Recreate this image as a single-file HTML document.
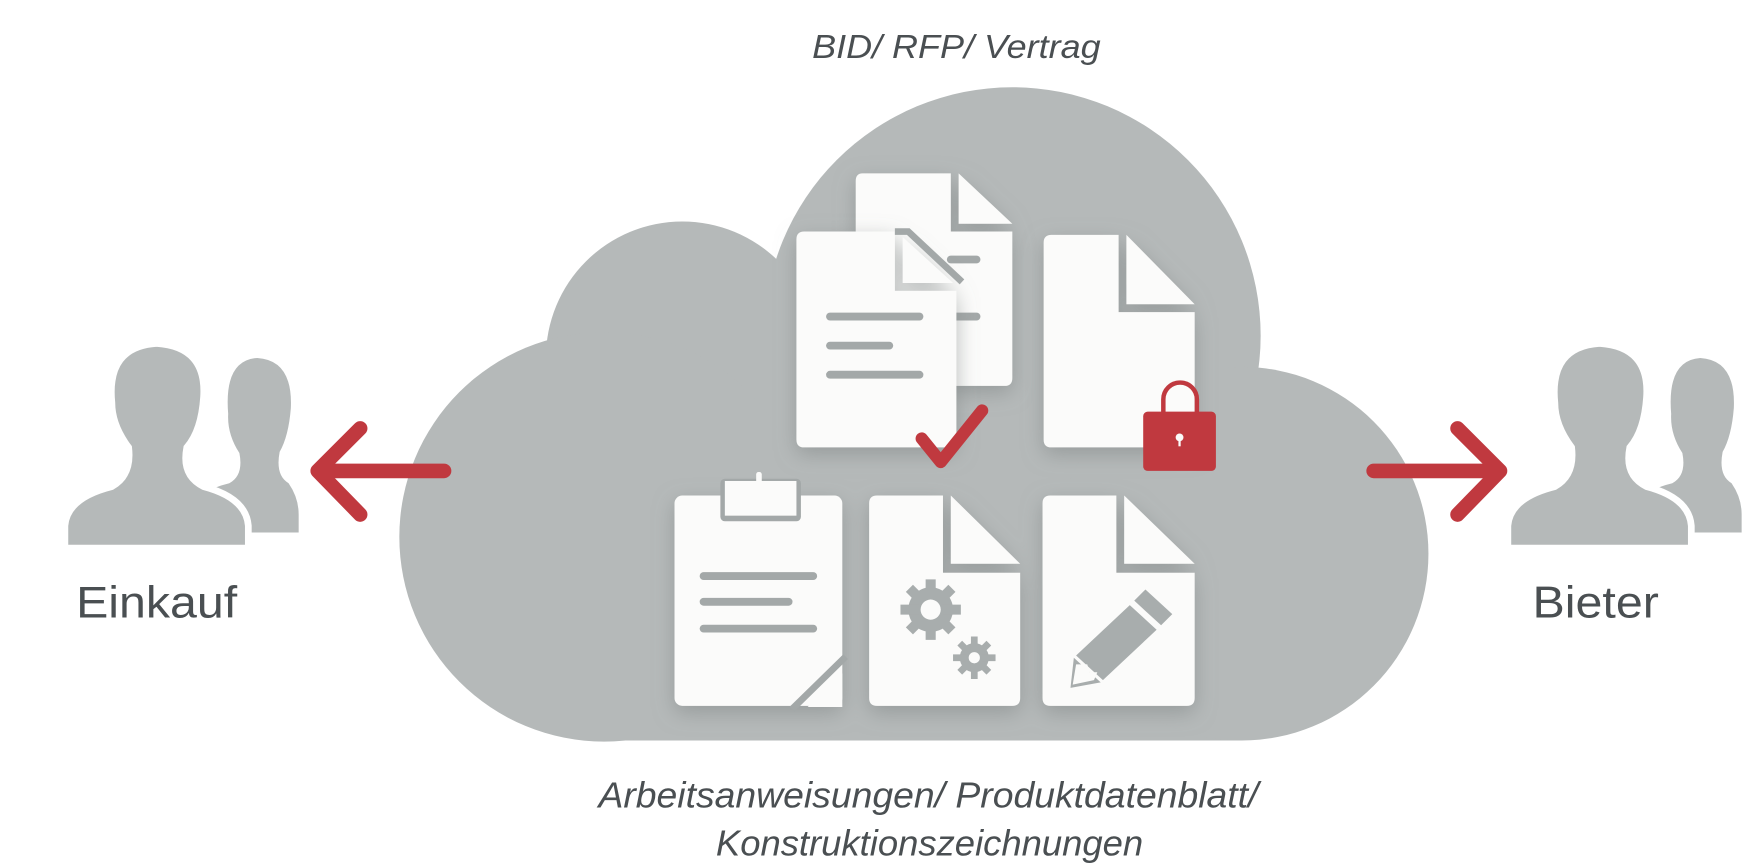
<!DOCTYPE html>
<html><head><meta charset="utf-8"><style>
html,body{margin:0;padding:0;background:#fff;width:1745px;height:866px;overflow:hidden}
svg{display:block}
text{font-family:"Liberation Sans",sans-serif;fill:#4a4f52}
</style></head><body>
<svg width="1745" height="866" viewBox="0 0 1560 774.2" preserveAspectRatio="none" xmlns="http://www.w3.org/2000/svg">
<defs>
<filter id="sh" x="-30%" y="-30%" width="160%" height="160%"><feDropShadow dx="0" dy="6" stdDeviation="9" flood-color="#7d8384" flood-opacity="0.55"/></filter>
</defs>
<g fill="#b5b9b9">
<rect x="540" y="300" width="570" height="362"/>
<circle cx="905" cy="300" r="222"/>
<circle cx="610" cy="320" r="122"/>
<circle cx="540" cy="480" r="183"/>
<circle cx="1110" cy="495" r="167"/>
</g>
<g fill="#fbfbfa" filter="url(#sh)">
<path d="M771,155 H850 V207 H905 V338 Q905,345 898,345 H771 Q765,345 765,338 V162 Q765,155 771,155Z"/>
<polygon points="857,155 905,200 857,200" />
</g>
<g stroke="#a3a8a8" stroke-width="7" stroke-linecap="round"><line x1="850" y1="232" x2="873" y2="232"/><line x1="850" y1="283" x2="873" y2="283"/></g>
<g fill="#fbfbfa" filter="url(#sh)">
<path d="M719,207 H800 V260 H855 V393 Q855,400 848,400 H719 Q712,400 712,393 V214 Q712,207 719,207Z"/>
<polygon points="807,212 852,253 807,253"/>
</g>
<path d="M800,207 L812,207 L860,252" stroke="#a3a8a8" stroke-width="6" fill="none"/>
<g stroke="#a3a8a8" stroke-width="7" stroke-linecap="round"><line x1="742" y1="283" x2="822" y2="283"/><line x1="742" y1="309" x2="795" y2="309"/><line x1="742" y1="335" x2="822" y2="335"/></g>
<g fill="#fbfbfa" filter="url(#sh)">
<path d="M940,210 H1000 V279 H1068 V400 H940 Q933,400 933,393 V217 Q933,210 940,210Z"/>
<polygon points="1007,210 1068,272 1007,272"/>
</g>
<polyline points="824,392 841,413 878,367" fill="none" stroke="#c0393f" stroke-width="11" stroke-linecap="round" stroke-linejoin="round"/>
<path d="M1040,370 V357 A15,15 0 0 1 1070,357 V370" fill="none" stroke="#c0393f" stroke-width="4"/>
<rect x="1022" y="368" width="65" height="53" rx="4" fill="#c0393f"/>
<circle cx="1054.5" cy="391" r="3.5" fill="#fbfbfa"/><rect x="1053.5" y="391" width="2" height="8" fill="#fbfbfa"/>
<g fill="#fbfbfa" filter="url(#sh)">
<rect x="603" y="443" width="150" height="188" rx="7"/>
<path d="M784,443 H843 V512 H912 V624 Q912,631 905,631 H784 Q777,631 777,624 V450 Q777,443 784,443Z"/>
<polygon points="850,443 912,504 850,504"/>
<path d="M939,443 H998 V512 H1068 V624 Q1068,631 1061,631 H939 Q932,631 932,624 V450 Q932,443 939,443Z"/>
<polygon points="1005,443 1068,504 1005,504"/>
</g>
<rect x="644" y="428" width="72" height="38" rx="4" fill="#a3a8a8"/>
<rect x="648" y="430" width="64" height="31" fill="#fbfbfa"/>
<rect x="676" y="422" width="5" height="10" rx="2" fill="#fbfbfa"/>
<g stroke="#a3a8a8" stroke-width="7" stroke-linecap="round"><line x1="629" y1="515" x2="727" y2="515"/><line x1="629" y1="538" x2="705" y2="538"/><line x1="629" y1="562" x2="727" y2="562"/></g>
<line x1="708" y1="634" x2="756" y2="587" stroke="#a3a8a8" stroke-width="6"/>
<polygon points="722,632 753,602 753,632" fill="#fbfbfa"/>
<g fill="#a8adad">
<circle cx="832" cy="545" r="20"/>
<g stroke="#a8adad" stroke-width="9"><line x1="832" y1="518" x2="832" y2="572"/><line x1="805" y1="545" x2="859" y2="545"/><line x1="813" y1="526" x2="851" y2="564"/><line x1="851" y1="526" x2="813" y2="564"/></g>
<circle cx="871" cy="588" r="13"/>
<g stroke="#a8adad" stroke-width="6"><line x1="871" y1="569" x2="871" y2="607"/><line x1="852" y1="588" x2="890" y2="588"/><line x1="858" y1="575" x2="884" y2="601"/><line x1="884" y1="575" x2="858" y2="601"/></g>
</g>
<circle cx="832" cy="545" r="9" fill="#fbfbfa"/><circle cx="871" cy="588" r="5" fill="#fbfbfa"/>
<g fill="#a8adad">
<polygon points="1024,527 1048,549 1038,559 1014,537"/>
<polygon points="1010,541 1034,563 986,608 962,586"/>
<polygon points="960,588 984,610 957,615"/>
</g>
<polygon points="962,594 972,594 974,601 981,601 978,608 959,612" fill="#fbfbfa"/>
<g fill="none" stroke="#c0393f" stroke-width="13" stroke-linecap="round" stroke-linejoin="round">
<line x1="397" y1="421" x2="288" y2="421"/><polyline points="322,383 284,421 322,460"/>
<line x1="1228" y1="421" x2="1337" y2="421"/><polyline points="1303,383 1341,421 1303,460"/>
</g>
<g id="pp">
<path d="M170,476 V460 Q172,440 205,432 Q218,425 214,405 Q203,388 204,370 Q200,322 230,320 Q262,322 260,365 Q258,390 250,404 Q246,425 258,432 Q267,445 267,460 V476 Z" fill="#b5b9b9"/>
<path d="M58,490 V470 Q60,445 100,435 Q118,425 115,400 Q100,380 100,360 Q95,310 140,307 Q185,310 182,355 Q180,385 167,400 Q162,425 182,435 Q220,445 222,470 V490 Z" fill="#b5b9b9" stroke="#fff" stroke-width="6"/>
<rect x="50" y="490" width="180" height="6" fill="#fff"/>
</g>
<use href="#pp" transform="translate(1290,0)"/>
<text x="855" y="52" text-anchor="middle" font-size="30" font-style="italic" textLength="258" lengthAdjust="spacingAndGlyphs">BID/ RFP/ Vertrag</text>
<text x="68" y="552" font-size="40" textLength="144" lengthAdjust="spacingAndGlyphs">Einkauf</text>
<text x="1370" y="552" font-size="40" textLength="113" lengthAdjust="spacingAndGlyphs">Bieter</text>
<text x="535" y="722" font-size="32" font-style="italic" textLength="590" lengthAdjust="spacingAndGlyphs">Arbeitsanweisungen/ Produktdatenblatt/</text>
<text x="640" y="765" font-size="32" font-style="italic" textLength="382" lengthAdjust="spacingAndGlyphs">Konstruktionszeichnungen</text>
</svg>
</body></html>
